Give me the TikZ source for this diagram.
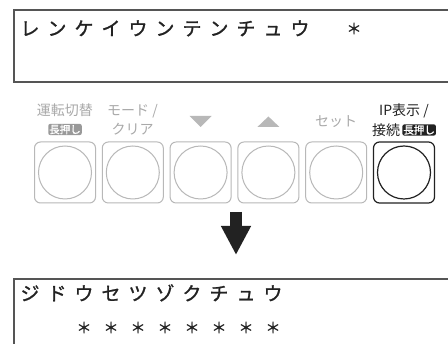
\documentclass[tikz,border=0pt]{standalone}
\usepackage{fontspec}
\setmainfont{Noto Sans CJK JP}
\newfontfamily\lcdfont[FakeBold=1.2]{Noto Sans CJK JP}
\usetikzlibrary{arrows.meta,positioning}
\definecolor{Frame}{HTML}{555555}
\definecolor{Ink}{HTML}{222222}
\definecolor{Faded}{HTML}{A9A9A9}
\definecolor{Badge}{HTML}{999999}
\definecolor{KeyLine}{HTML}{B8B8B8}

\begin{document}
\begin{tikzpicture}[x=1pt,y=-1pt,
  lcd/.style={font=\lcdfont\fontsize{19}{19}\selectfont,text=Ink,inner sep=0pt,anchor=base},
  star/.style={font=\lcdfont\fontsize{15}{15}\selectfont,text=Ink,inner sep=0pt},
  lbl/.style={font=\fontsize{14}{14}\selectfont,text=Faded,inner sep=0pt,text height=12pt,text depth=1.5pt},
  tag/.style={font=\lcdfont\fontsize{10.5}{10.5}\selectfont,text=white,fill=Badge,rounded corners=2pt,inner xsep=1pt,inner ysep=.5pt,text height=9pt,text depth=1.2pt},
  key/.style={draw=KeyLine,line width=1pt,rounded corners=6pt,minimum width=61pt,minimum height=61pt},
  knob/.style={draw=KeyLine,line width=1pt,circle,inner sep=0pt,minimum size=53pt}]
\clip (0,0) rectangle (448,344);
\fill[white] (0,0) rectangle (448,344);
\draw[Frame,line width=1.5pt] (14,10) rectangle (470,82);
\foreach \ch [count=\i from 0] in {レ,ン,ケ,イ,ウ,ン,テ,ン,チ,ュ,ウ}
  \node[lcd] (t\i) at (30+27*\i,35.5) {\ch};
\node[star] (tstar) at (30+27*12,28.5) {＊};
\foreach \i in {1,...,5} {
  \node[key] (k\i) at (65+67.8*\i-67.8,172.5) {};
  \node[knob] (c\i) at (k\i) {};
}
\node[key,draw=Ink,line width=1.2pt] (k6) at (404,172.5) {};
\node[knob,draw=Ink,line width=1.2pt] (c6) at (k6) {};
\node[lbl] (l1a) at (65,110) {運転切替};
\node[tag] (l1b) at (65,129.5) {長押し};
\node[lbl] (l2a) at (132.5,110) {モード /};
\node[lbl] (l2b) at (132.5,129.5) {クリア};
\fill[KeyLine] (189.6,116) -- (211.6,116) -- (200.6,127) -- cycle;
\fill[KeyLine] (257.4,127) -- (279.4,127) -- (268.4,116.5) -- cycle;
\node[lbl] (l5) at (336.2,121) {セット};
\node[lbl,text=Ink] (l6a) at (404,110) {IP表示 /};
\node[lbl,text=Ink] (l6b) at (386,130) {接続};
\node[tag,fill=Ink,right=2pt of l6b] (l6c) {長押し};
\coordinate (down0) at (236,212);
\coordinate (down1) at (236,255);
\draw[Ink,line width=12pt,-{Triangle[width=28pt,length=29pt]}] (down0) -- (down1);
\draw[Frame,line width=1.5pt] (14,279) rectangle (470,360);
\foreach \ch [count=\i from 0] in {ジ,ド,ウ,セ,ツ,ゾ,ク,チ,ュ,ウ}
  \node[lcd] (b\i) at (30+27*\i,300.5) {\ch};
\foreach \i in {2,...,9}
  \node[star] (s\i) at (30+27*\i,327.5) {＊};
\end{tikzpicture}
\end{document}
